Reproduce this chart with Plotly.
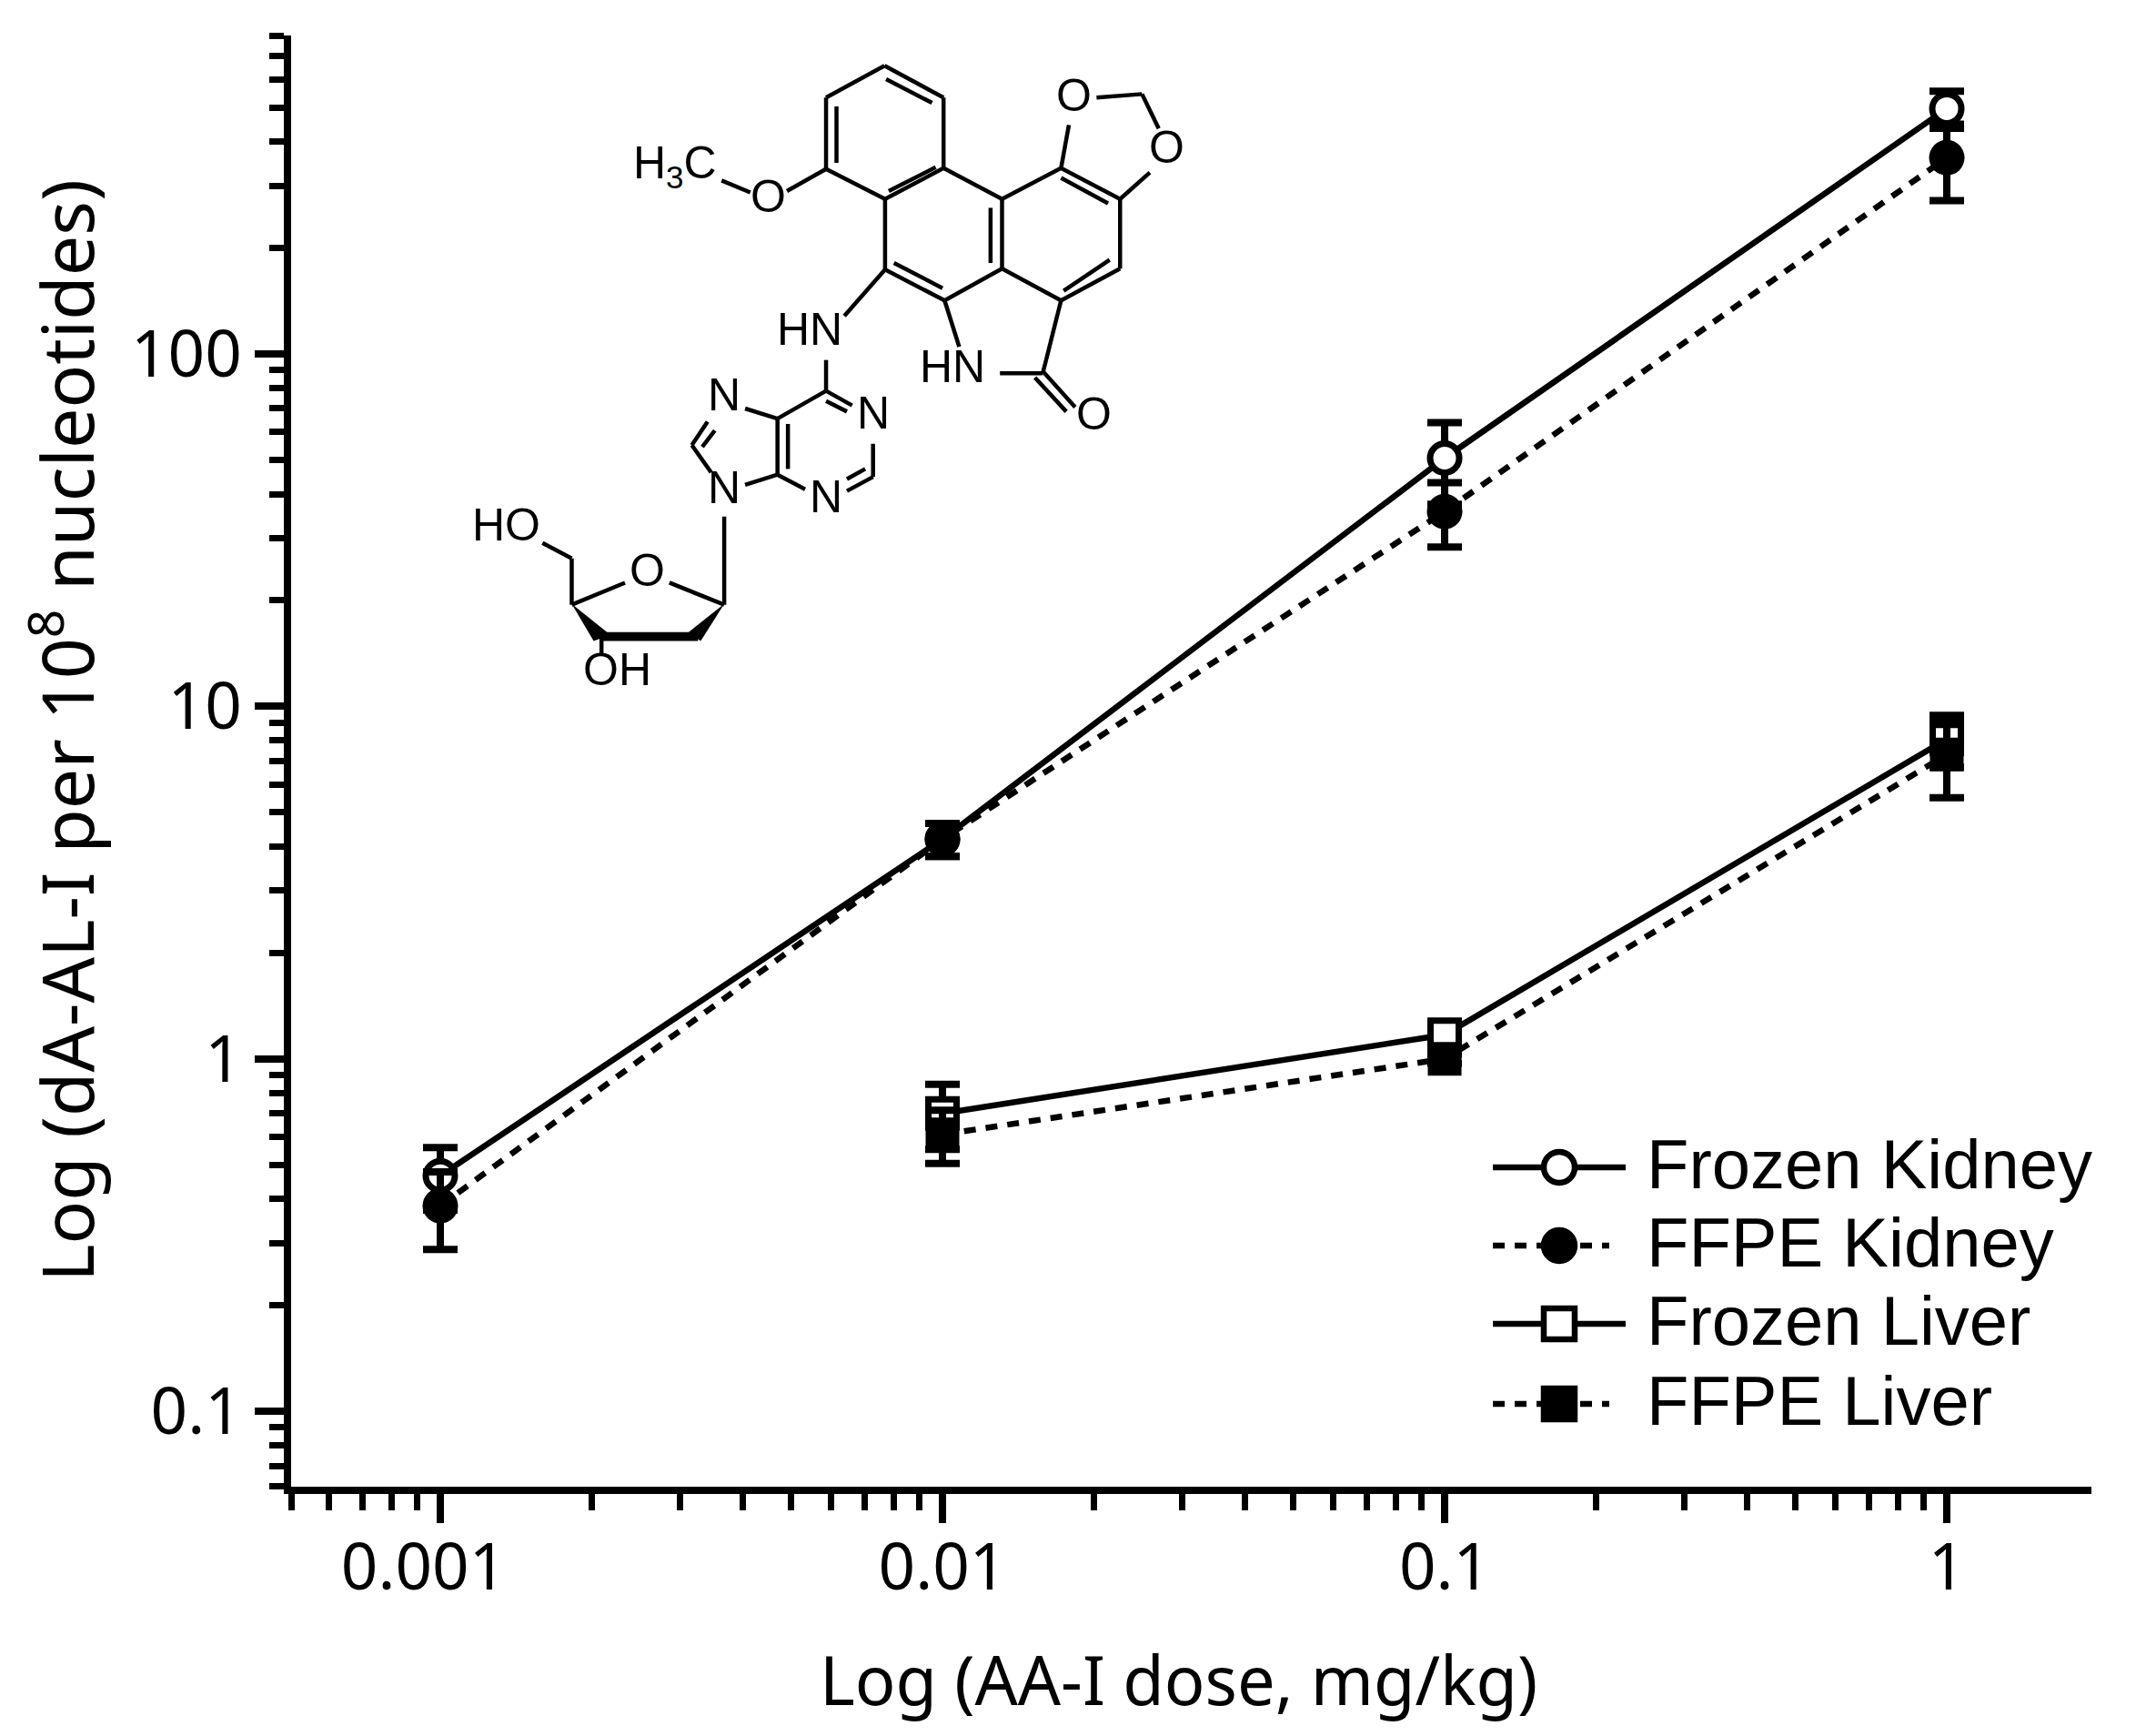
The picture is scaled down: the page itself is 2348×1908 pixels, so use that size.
import math

import plotly.graph_objects as go

# data
doses = [0.001, 0.01, 0.1, 1]
liver_doses = [0.01, 0.1, 1]

frozen_kidney = [0.466, 4.2, 50.6, 496]
frozen_kidney_err = [0.094, 0.45, 13.2, 60]
ffpe_kidney = [0.383, 4.2, 35.7, 360]
ffpe_kidney_err = [0.095, 0.45, 7.4, 88]

frozen_liver = [0.70, 1.17, 8.07]
frozen_liver_err = [0.147, 0.05, 1.35]
ffpe_liver = [0.61, 1.0, 7.3]
ffpe_liver_err = [0.105, 0.03, 1.8]

x_tick_vals = [0.001, 0.01, 0.1, 1]
# the first label sits left of its tick in the reference
x_tick_text = ["0.001\u00a0\u00a0", "0.01", "0.1", "1"]
y_tick_vals = [0.1, 1, 10, 100]
y_tick_text = ["0.1", "1", "10", "100"]

x_minor = [m * 10**e for e in (-4, -3, -2, -1) for m in (2, 3, 4, 5, 6, 7, 8, 9)]
x_minor = [v for v in x_minor if v >= 0.0006] + [0.000505]
y_minor = [m * 10**e for e in (-2, -1, 0, 1, 2) for m in (2, 3, 4, 5, 6, 7, 8, 9)]
y_minor = [v for v in y_minor if 0.07 <= v <= 800] + [0.0612]

legend_rows = [
    ("Frozen Kidney", "solid", "circle", "white", 1283),
    ("FFPE Kidney", "dash", "circle", "black", 1369),
    ("Frozen Liver", "solid", "square", "white", 1455),
    ("FFPE Liver", "dash", "square", "black", 1543),
]

# chemical structure, traced on the zoomed crop of the inset
BONDS = [
    # top ring
    (997, 108, 1110, 180), (1110, 180, 1110, 340), (1110, 340, 998, 410),
    (998, 410, 885, 342), (885, 342, 885, 180), (885, 180, 997, 108),
    (1000, 138, 1088, 192), (905, 200, 905, 328), (1005, 392, 1095, 338),
    # middle ring
    (1110, 340, 1222, 410), (1222, 410, 1222, 568), (1222, 568, 1112, 640),
    (1112, 640, 998, 570), (998, 570, 998, 410),
    (1200, 430, 1200, 555), (1015, 555, 1108, 612),
    # right ring
    (1222, 410, 1335, 340), (1335, 340, 1448, 410), (1448, 410, 1448, 568),
    (1448, 568, 1335, 640), (1335, 640, 1222, 568),
    (1335, 362, 1425, 420), (1340, 618, 1428, 548),
    # lactam
    (1112, 640, 1140, 745), (1335, 640, 1300, 805), (1300, 805, 1218, 805),
    (1302, 803, 1362, 882), (1285, 815, 1345, 892),
    # dioxole
    (1335, 340, 1350, 242), (1403, 180, 1490, 172), (1490, 172, 1522, 250),
    (1448, 410, 1505, 350),
    # methoxy and amine
    (885, 342, 810, 392), (740, 395, 685, 368), (998, 570, 920, 675),
    (885, 775, 885, 845),
    # purine
    (885, 845, 792, 908), (885, 845, 935, 878), (885, 868, 925, 892),
    (975, 965, 975, 1040), (975, 1040, 925, 1072), (960, 1022, 925, 1045),
    (845, 1068, 792, 1035), (792, 1035, 792, 908), (812, 920, 812, 1022),
    (792, 908, 730, 885), (792, 1035, 730, 1058),
    (658, 915, 628, 968), (672, 935, 648, 972), (628, 968, 665, 1030),
    # sugar
    (690, 1130, 690, 1330), (690, 1330, 585, 1280), (500, 1280, 398, 1330),
    (398, 1330, 398, 1225), (398, 1225, 342, 1190), (455, 1405, 455, 1440),
]
WEDGES = [
    [(398, 1328), (440, 1412), (472, 1398)],
    [(455, 1392), (640, 1392), (640, 1412), (455, 1412)],
    [(690, 1328), (622, 1392), (645, 1412)],
]
ATOMS = [
    ("H<sub>3</sub>C", 596, 335), ("O", 775, 405), ("O", 1360, 175), ("O", 1538, 293),
    ("HN", 853, 705), ("HN", 1127, 790), ("O", 1398, 897), ("N", 690, 855),
    ("N", 975, 895), ("N", 885, 1085), ("N", 690, 1065), ("HO", 272, 1150),
    ("O", 543, 1252), ("OH", 485, 1478),
]

# positions are page pixels; the page body adds an 8px margin round the figure
BODY = 8
LEFT, RIGHT, TOP, BOTTOM = 320, 2299, 39, 1634
W, H = 2348 - 2 * BODY, 1908 - 2 * BODY
TEXT_FONT = "Noto Sans"
LEGEND_FONT = "Liberation Sans"


def px(x):
    return (x - LEFT) / (RIGHT - LEFT)


def py(y):
    return (BOTTOM - y) / (BOTTOM - TOP)


def inset_x(v):
    return px(400 + v / 1.742)


def inset_y(v):
    return py(20 + v / 2.063)


def add_series(fig, name, x, y, err, symbol, fill, dash, size):
    fig.add_trace(
        go.Scatter(
            x=x,
            y=y,
            name=name,
            mode="lines+markers",
            line=dict(color="black", width=6.5, dash=dash),
            marker=dict(
                symbol=symbol,
                size=size,
                color=fill,
                line=dict(color="black", width=7 if fill == "white" else 0),
            ),
            error_y=dict(type="data", array=err, color="black", thickness=8, width=19),
        )
    )


fig = go.Figure()
add_series(fig, "Frozen Kidney", doses, frozen_kidney, frozen_kidney_err, "circle", "white", "solid", 32)
add_series(fig, "FFPE Kidney", doses, ffpe_kidney, ffpe_kidney_err, "circle", "black", "13px,11px", 39)
add_series(fig, "Frozen Liver", liver_doses, frozen_liver, frozen_liver_err, "square", "white", "solid", 31)
add_series(fig, "FFPE Liver", liver_doses, ffpe_liver, ffpe_liver_err, "square", "black", "13px,11px", 37)

shapes = []
for x0, y0, x1, y1 in BONDS:
    shapes.append(
        dict(
            type="line", xref="paper", yref="paper",
            x0=inset_x(x0), y0=inset_y(y0), x1=inset_x(x1), y1=inset_y(y1),
            line=dict(color="black", width=4.5),
        )
    )
for poly in WEDGES:
    path = "M " + " L ".join(f"{inset_x(a):.5f},{inset_y(b):.5f}" for a, b in poly) + " Z"
    shapes.append(
        dict(type="path", xref="paper", yref="paper", path=path, fillcolor="black", line=dict(width=0))
    )

annotations = [
    dict(
        text=t, x=inset_x(a), y=inset_y(b), xref="paper", yref="paper",
        showarrow=False, xanchor="center", yanchor="middle",
        font=dict(family=LEGEND_FONT, size=50, color="black"),
    )
    for t, a, b in ATOMS
]

# legend drawn by hand, the row spacing is tighter than plotly's own legend allows
for label, style, symbol, fill, row_y in legend_rows:
    end = 1787 if style == "solid" else 1769
    shapes.append(
        dict(
            type="line", xref="paper", yref="paper",
            x0=px(1641), y0=py(row_y), x1=px(end), y1=py(row_y),
            line=dict(color="black", width=6.5, dash="solid" if style == "solid" else "13px,11px"),
        )
    )
    half = 17
    shapes.append(
        dict(
            type="circle" if symbol == "circle" else "rect", xref="paper", yref="paper",
            x0=px(1714 - half), x1=px(1714 + half), y0=py(row_y - half), y1=py(row_y + half),
            fillcolor=fill, line=dict(color="black", width=6.5),
        )
    )
    annotations.append(
        dict(
            text=label, x=px(1808), y=py(row_y - 4), xref="paper", yref="paper",
            showarrow=False, xanchor="left", yanchor="middle",
            font=dict(family=LEGEND_FONT, size=76, color="black"),
        )
    )

annotations.append(
    dict(
        text="Log (AA-I dose, mg/kg)", x=px(1295), y=py(1845), xref="paper", yref="paper",
        showarrow=False, xanchor="center", yanchor="middle",
        font=dict(family=TEXT_FONT, size=74, color="black"),
    )
)
annotations.append(
    dict(
        text="Log (dA-AL-I per 10<sup>8</sup> nucleotides)", x=px(68), y=py(803),
        xref="paper", yref="paper", showarrow=False, xanchor="center", yanchor="middle",
        textangle=-90, font=dict(family=TEXT_FONT, size=79, color="black"),
    )
)

fig.update_layout(
    width=W,
    height=H,
    margin=dict(l=LEFT - BODY, r=BODY + W - RIGHT, t=TOP - BODY, b=BODY + H - BOTTOM, pad=0),
    plot_bgcolor="white",
    paper_bgcolor="white",
    showlegend=False,
    shapes=shapes,
    annotations=annotations,
    font=dict(family=TEXT_FONT, color="black"),
)
axis_style = dict(
    type="log",
    showgrid=False,
    zeroline=False,
    showline=True,
    linecolor="black",
    linewidth=8,
    ticks="outside",
    tickwidth=7.5,
    tickcolor="black",
    tickfont=dict(family=TEXT_FONT, size=71, color="black"),
)
fig.update_xaxes(
    range=[-3 - (484 - LEFT) / 552, 0.288],
    tickmode="array",
    tickvals=x_tick_vals,
    ticktext=x_tick_text,
    ticklen=32,
    ticklabelstandoff=-12,
    minor=dict(tickmode="array", tickvals=x_minor, ticks="outside", ticklen=18, tickwidth=7, tickcolor="black", showgrid=False),
    **axis_style,
)
fig.update_yaxes(
    range=[math.log10(0.0611), math.log10(800)],
    tickmode="array",
    tickvals=y_tick_vals,
    ticktext=y_tick_text,
    ticklen=32,
    minor=dict(tickmode="array", tickvals=y_minor, ticks="outside", ticklen=16, tickwidth=7, tickcolor="black", showgrid=False),
    **axis_style,
)

fig.write_html("out.html")
